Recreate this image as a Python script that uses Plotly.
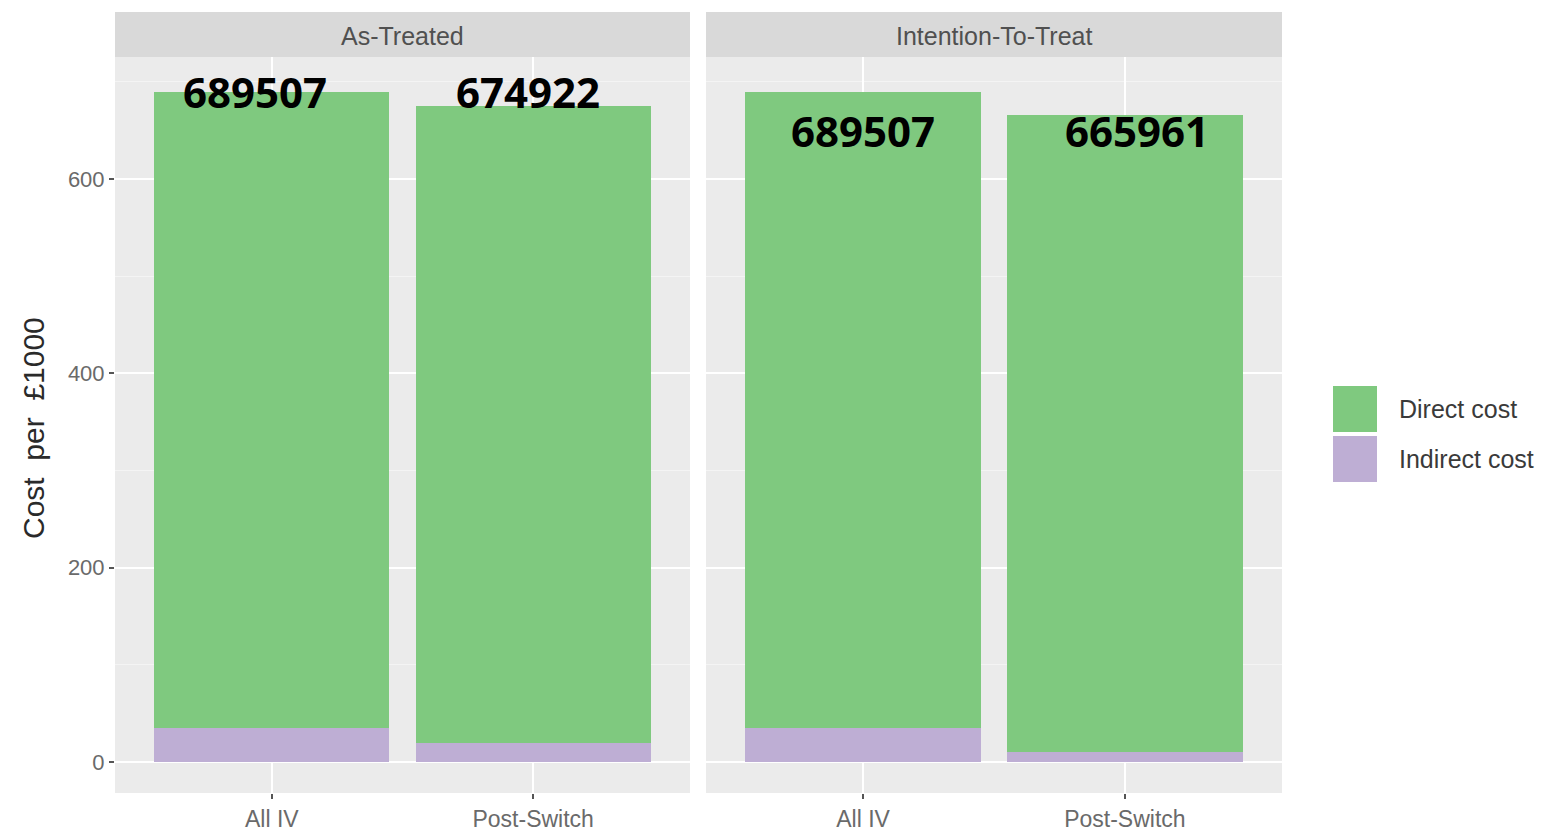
import plotly.graph_objects as go

# ---------------- data ----------------
categories = ["All IV", "Post-Switch"]
panels = ["As-Treated", "Intention-To-Treat"]
series_names = ["Direct cost", "Indirect cost"]

total_at = [689.507, 674.922]
indirect_at = [35, 19.5]
total_itt = [689.507, 665.961]
indirect_itt = [35, 10]

label_at = ["689507", "674922"]
label_itt = ["689507", "665961"]

y_ticks = [0, 200, 400, 600]

direct_at = [t - i for t, i in zip(total_at, indirect_at)]
direct_itt = [t - i for t, i in zip(total_itt, indirect_itt)]

# ---------------- style ----------------
W, H = 1541, 833
GREEN = "#7FC97F"
PURPLE = "#BEAED4"
PANEL_BG = "#EBEBEB"
STRIP_BG = "#D9D9D9"
FONT = "Liberation Sans, Arial, sans-serif"


def px_x(p):
    return p / W


def px_y(p):
    return 1 - p / H


fig = go.Figure()

panel_data = [
    ("x", "y", direct_at, indirect_at),
    ("x2", "y2", direct_itt, indirect_itt),
]
for k, (xa, ya, direct, indirect) in enumerate(panel_data):
    fig.add_trace(go.Bar(x=categories, y=indirect, name=series_names[1],
                         marker=dict(color=PURPLE, line=dict(width=0)),
                         width=0.9, xaxis=xa, yaxis=ya, showlegend=False,
                         hoverinfo="x+y+name"))
    fig.add_trace(go.Bar(x=categories, y=direct, name=series_names[0],
                         marker=dict(color=GREEN, line=dict(width=0)),
                         width=0.9, xaxis=xa, yaxis=ya, showlegend=False,
                         hoverinfo="x+y+name"))

yr = [-32, 725.5]
common_x = dict(type="category", range=[-0.6, 1.6], showgrid=True,
                gridcolor="white", gridwidth=1.6, showline=False, zeroline=False,
                ticks="outside", ticklen=5, tickcolor="#555", tickwidth=1.5,
                tickfont=dict(family=FONT, size=23, color="#6a6a6a"))
common_y = dict(range=yr, tickvals=y_ticks, showgrid=True, gridcolor="white",
                gridwidth=1.6, zeroline=False, showline=False,
                minor=dict(dtick=100, tick0=0, showgrid=True,
                           gridcolor="#F4F4F4", gridwidth=1, ticks=""))

x_dom1 = [px_x(115), px_x(690)]
x_dom2 = [px_x(706), px_x(1282)]
y_dom = [px_y(793), px_y(57)]

fig.update_layout(
    width=W, height=H,
    margin=dict(l=0, r=0, t=0, b=0),
    paper_bgcolor="white",
    plot_bgcolor=PANEL_BG,
    barmode="stack",
    showlegend=False,
    font=dict(family=FONT),
    xaxis=dict(domain=x_dom1, anchor="y", **common_x),
    xaxis2=dict(domain=x_dom2, anchor="y2", **common_x),
    yaxis=dict(domain=y_dom, anchor="x", ticks="outside", ticklen=5,
               tickcolor="#555", tickwidth=1.5,
               tickfont=dict(family=FONT, size=22, color="#6a6a6a"), **common_y),
    yaxis2=dict(domain=y_dom, anchor="x2", matches="y", showticklabels=False,
                ticks="", **common_y),
)

shapes = []
annotations = []

# facet strips
for dom, title in zip([x_dom1, x_dom2], panels):
    shapes.append(dict(type="rect", xref="paper", yref="paper",
                       x0=dom[0], x1=dom[1], y0=px_y(57), y1=px_y(12),
                       fillcolor=STRIP_BG, line=dict(width=0), layer="below"))
    annotations.append(dict(xref="paper", yref="paper", x=(dom[0] + dom[1]) / 2,
                            y=px_y(36), text=title, showarrow=False,
                            xanchor="center", yanchor="middle",
                            font=dict(family=FONT, size=25, color="#505050")))

# value labels
label_y = [[690, 690], [650, 650]]
label_dx = [[-17, -5], [0, 12]]
for k, (xa, ya, labels) in enumerate([("x", "y", label_at), ("x2", "y2", label_itt)]):
    for j, cat in enumerate(categories):
        annotations.append(dict(xref=xa, yref=ya, x=cat, y=label_y[k][j],
                                text="<b>%s</b>" % labels[j], showarrow=False,
                                xanchor="center", yanchor="middle",
                                xshift=label_dx[k][j],
                                font=dict(family="Open Sans, sans-serif",
                                          size=42, color="black")))

# y axis title
annotations.append(dict(xref="paper", yref="paper", x=px_x(33), y=px_y(428),
                        text="Cost\u00a0\u00a0per\u00a0\u00a0£1000", textangle=-90,
                        showarrow=False, xanchor="center", yanchor="middle",
                        font=dict(family=FONT, size=30, color="#2a2a2a")))

# legend
legend_items = [(series_names[0], GREEN, 386, 432), (series_names[1], PURPLE, 436, 482)]
for name, col, y0, y1 in legend_items:
    shapes.append(dict(type="rect", xref="paper", yref="paper",
                       x0=px_x(1333), x1=px_x(1377), y0=px_y(y1), y1=px_y(y0),
                       fillcolor=col, line=dict(width=0)))
    annotations.append(dict(xref="paper", yref="paper", x=px_x(1397),
                            y=px_y((y0 + y1) / 2), text=name, showarrow=False,
                            xanchor="left", yanchor="middle",
                            font=dict(family=FONT, size=25, color="#3a3a3a")))

fig.update_layout(shapes=shapes, annotations=annotations)

fig.write_html("out.html",
               config={"displayModeBar": False},
               post_script="document.body.style.margin='0';"
                           "document.body.style.padding='0';"
                           "document.body.style.overflow='hidden';")
